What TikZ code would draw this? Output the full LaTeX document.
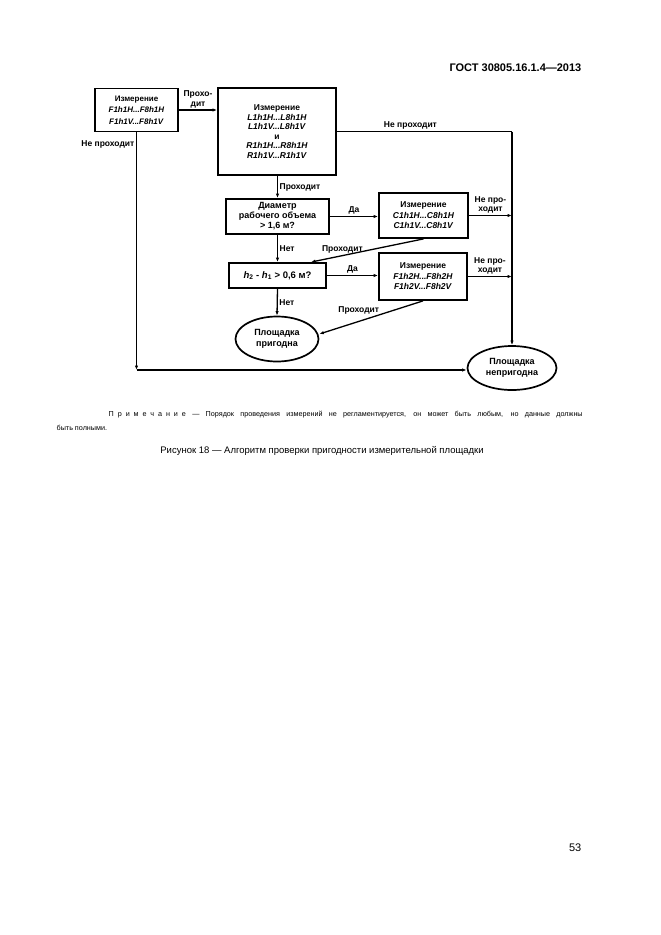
\documentclass[tikz,border=0pt]{standalone}
\usepackage{fontspec}
\setmainfont{Liberation Sans}
\usetikzlibrary{positioning,arrows.meta,shapes.geometric}

\begin{document}
\begin{tikzpicture}[x=1pt,y=-1pt,line width=1.3pt,
  >={Latex[length=4.5pt,width=3.4pt]},
  box/.style={draw, line width=1.8pt, inner sep=0pt, align=center, font=\fontsize{8.5}{10.5}\selectfont\bfseries},
  oval/.style={draw, ellipse, line width=1.7pt, inner sep=0pt, align=center, font=\fontsize{9}{10.5}\selectfont\bfseries},
  lbl/.style={font=\fontsize{8.5}{9.5}\selectfont\bfseries, inner sep=1.5pt, align=center}]

\fill[white] (0,0) rectangle (661,935);
\useasboundingbox (0,0) rectangle (661,935);

\node[font=\fontsize{11}{13}\selectfont\bfseries, anchor=east, inner sep=0] (hdr) at (582,68) {ГОСТ 30805.16.1.4—2013};

\node[box, minimum width=83pt, minimum height=43pt, font=\fontsize{8}{11.5}\selectfont\bfseries] (f1) at (136.5,110) {Измерение\\\textit{F1h1H...F8h1H}\\\textit{F1h1V...F8h1V}};
\node[box, minimum width=118pt, minimum height=87pt, font=\fontsize{8.5}{9.6}\selectfont\bfseries] (lr) at (277,131.5) {Измерение\\\textit{L1h1H...L8h1H}\\\textit{L1h1V...L8h1V}\\и\\\textit{R1h1H...R8h1H}\\\textit{R1h1V...R1h1V}};
\node[box, minimum width=103pt, minimum height=35pt, font=\fontsize{9}{10}\selectfont\bfseries] (dm) at (277.5,216.5) {Диаметр\\рабочего объема\\> 1,6 м?};
\node[box, minimum width=89pt, minimum height=45pt] (mc) at (423.5,215.5) {Измерение\\\textit{C1h1H...C8h1H}\\\textit{C1h1V...C8h1V}};
\node[box, minimum width=97pt, minimum height=25pt, font=\fontsize{9.5}{11}\selectfont\bfseries] (hh) at (277.5,275.5) {\textit{h}\textsubscript{2} - \textit{h}\textsubscript{1} > 0,6 м?};
\node[box, minimum width=88pt, minimum height=47pt] (mf) at (423,276.5) {Измерение\\\textit{F1h2H...F8h2H}\\\textit{F1h2V...F8h2V}};
\node[oval, minimum width=83pt, minimum height=45pt] (ok) at (277,339) {Площадка\\пригодна};
\node[oval, minimum width=89pt, minimum height=44pt] (bad) at (512,368) {Площадка\\непригодна};

\draw[->] (f1.east) -- node[lbl, above] {Прохо-\\дит} (f1.east -| lr.west);
\draw (lr.east) -- node[lbl, above, pos=0.42] {Не проходит} (lr.east -| bad.north);
\draw[->] (lr.east -| bad.north) -- (bad.north);
\draw[->] (lr.south -| dm.north) -- node[lbl, right] {Проходит} (dm.north);
\draw[->] (dm.east) -- node[lbl, above] {Да} (dm.east -| mc.west);
\draw[->] (mc.east) -- node[lbl, above] {Не про-\\ходит} (mc.east -| bad.north);
\draw[->] (mc.south) -- node[lbl, above, pos=0.72] {Проходит} ([xshift=-16pt]hh.north east);
\draw[->] (dm.south) -- node[lbl, right] {Нет} (hh.north);
\draw[->] (hh.east) -- node[lbl, above] {Да} (hh.east -| mf.west);
\draw[->] (mf.east) -- node[lbl, above] {Не про-\\ходит} (mf.east -| bad.north);
\draw[->] (mf.south) -- node[lbl, above, pos=0.62, yshift=5pt] {Проходит} ([yshift=5pt]ok.east);
\draw[->] (hh.south) -- node[lbl, right] {Нет} (ok.north);
\draw[->] (f1.south) -- node[lbl, left, pos=0.05] {Не проходит} (f1.south |- 0,370);
\draw[->] (f1.south |- 0,370) -- (bad.west |- 0,370);

\node[anchor=west, inner sep=0, font=\fontsize{7.2}{9}\selectfont] (note1) at (108,415) {\makebox[474pt][s]{{\addfontfeature{LetterSpace=55}Примечание} — Порядок проведения измерений не регламентируется, он может быть любым, но данные должны}};
\node[anchor=west, inner sep=0, font=\fontsize{7.2}{9}\selectfont] (note2) at (56,428) {быть полными.};
\node[inner sep=0, font=\fontsize{9.5}{11}\selectfont] (cap) at (322,451) {Рисунок 18 — Алгоритм проверки пригодности измерительной площадки};
\node[anchor=east, inner sep=0, font=\fontsize{11}{13}\selectfont] (pg) at (582,848) {53};

\end{tikzpicture}
\end{document}
